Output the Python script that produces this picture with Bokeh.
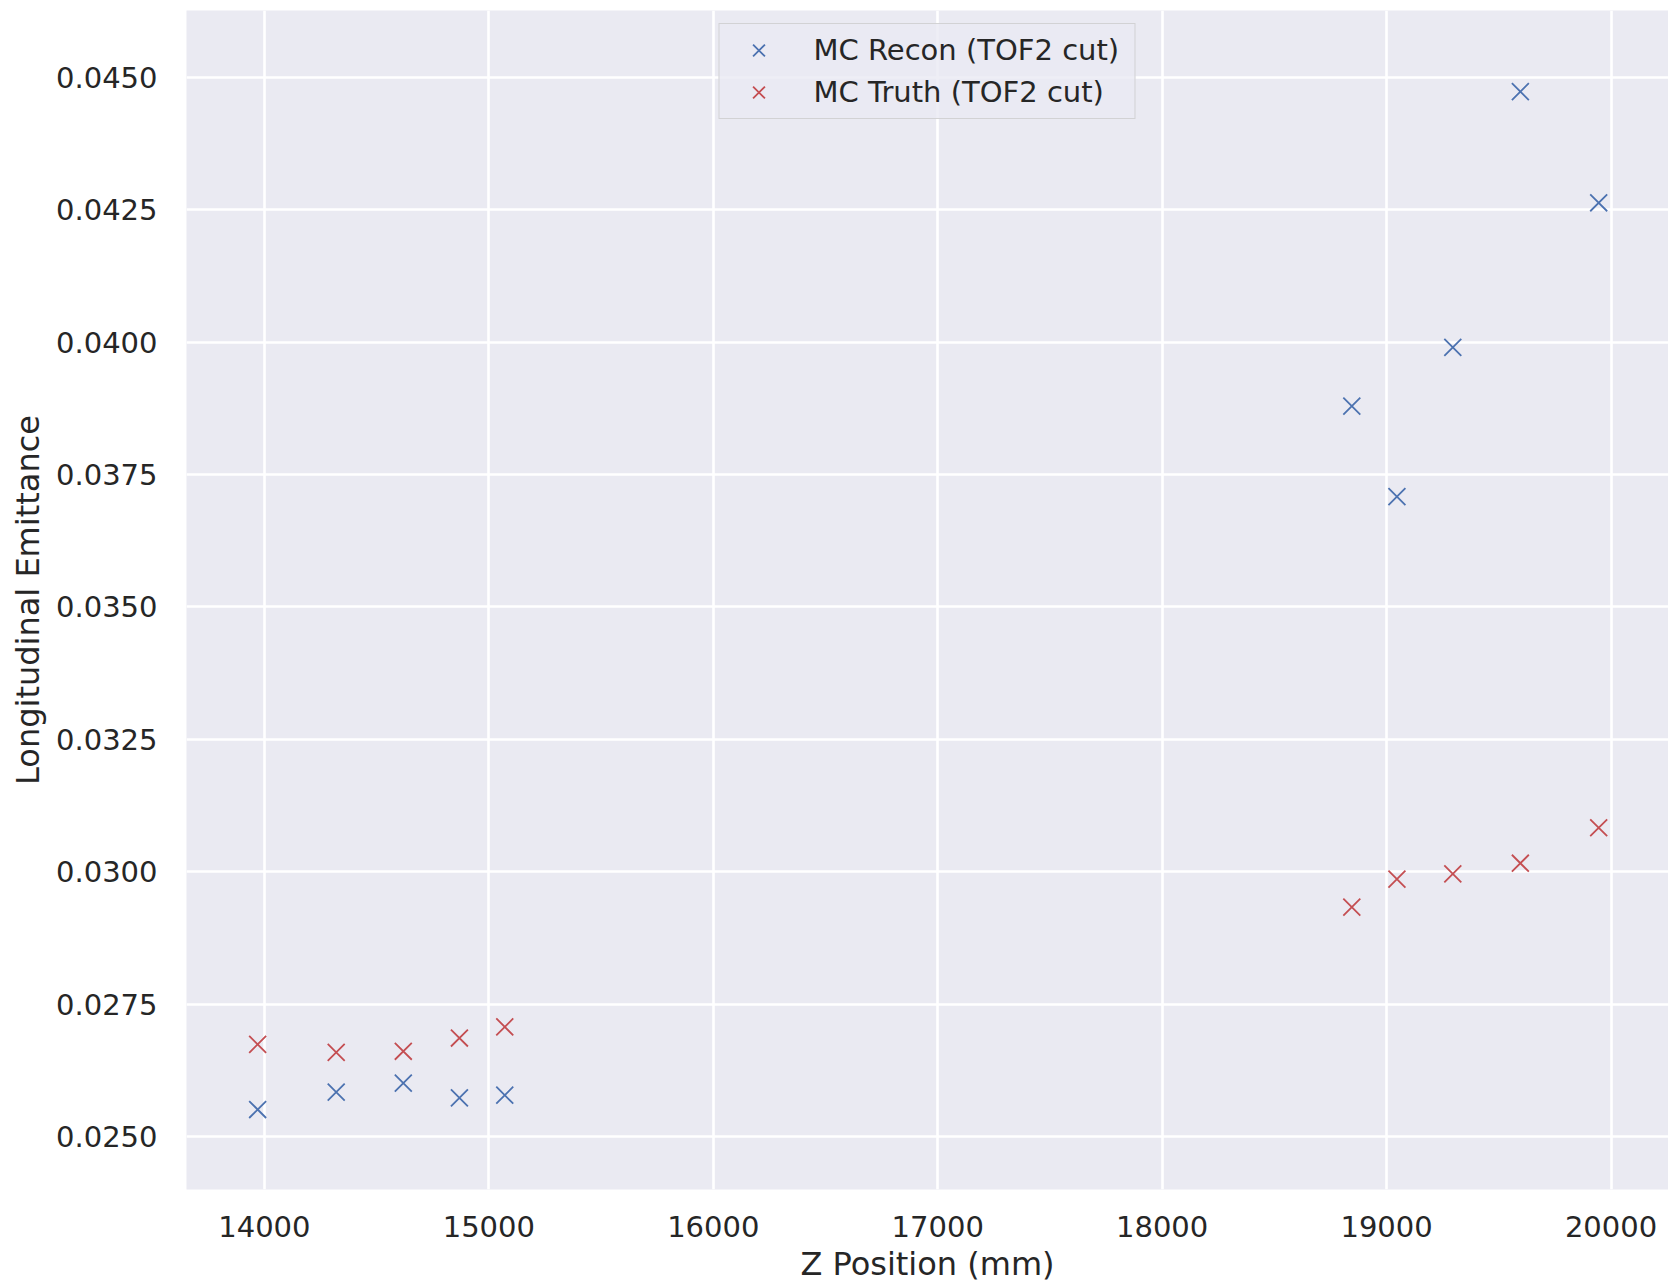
from bokeh.plotting import figure
from bokeh.models import FixedTicker, PrintfTickFormatter, Legend, LegendItem, Range1d
from bokeh.embed import file_html
from bokeh.resources import INLINE

# ---- data ----
z_position = [13970, 14320, 14619, 14869, 15071, 18845, 19046, 19295, 19596, 19945]
emit_recon = [0.02551, 0.02584, 0.02601, 0.02573, 0.02578, 0.03879, 0.03708, 0.03990, 0.04473, 0.04263]
emit_truth = [0.02674, 0.02659, 0.02661, 0.02686, 0.02707, 0.02933, 0.02986, 0.02996, 0.03016, 0.03083]
x_ticks = [14000, 15000, 16000, 17000, 18000, 19000, 20000]
y_ticks = [0.0250, 0.0275, 0.0300, 0.0325, 0.0350, 0.0375, 0.0400, 0.0425, 0.0450]
series_labels = ["MC Recon (TOF2 cut)", "MC Truth (TOF2 cut)"]

BLUE = "#4C72B0"
RED = "#C44E52"
TEXT = "#262626"
FONT = "DejaVu Sans"

p = figure(width=1668, height=1287,
           x_range=Range1d(13653, 20256), y_range=Range1d(0.0240, 0.04626),
           output_backend="svg", toolbar_location=None,
           min_border_left=186, min_border_right=0, min_border_top=10, min_border_bottom=98)

p.background_fill_color = "#EAEAF2"
p.border_fill_color = "white"
p.outline_line_color = None

p.xaxis.ticker = FixedTicker(ticks=x_ticks)
p.xaxis.formatter = PrintfTickFormatter(format="%d")
p.yaxis.ticker = FixedTicker(ticks=y_ticks)
p.yaxis.formatter = PrintfTickFormatter(format="%.4f")

for ax in (p.xaxis, p.yaxis):
    ax.axis_line_color = None
    ax.major_tick_line_color = None
    ax.minor_tick_line_color = None
    ax.major_tick_in = 0
    ax.major_tick_out = 0
    ax.minor_tick_in = 0
    ax.minor_tick_out = 0
    ax.major_label_text_font = FONT
    ax.major_label_text_font_size = "29px"
    ax.major_label_text_color = TEXT
    ax.axis_label_text_font = FONT
    ax.axis_label_text_font_size = "32px"
    ax.axis_label_text_font_style = "normal"
    ax.axis_label_text_color = TEXT

p.xaxis.axis_label = "Z Position (mm)"
p.yaxis.axis_label = "Longitudinal Emittance"
p.xaxis.major_label_standoff = 26
p.xaxis.axis_label_standoff = 5
p.yaxis.major_label_standoff = 29
p.yaxis.axis_label_standoff = 6

p.grid.grid_line_color = "white"
p.grid.grid_line_width = 2.6

r1 = p.scatter(z_position, emit_recon, marker="x", size=24, line_color=BLUE, line_width=1.8)
r2 = p.scatter(z_position, emit_truth, marker="x", size=24, line_color=RED, line_width=1.8)

legend = Legend(items=[LegendItem(label=series_labels[0], renderers=[r1]),
                       LegendItem(label=series_labels[1], renderers=[r2])],
                location="top_center", margin=13, padding=5, spacing=0,
                glyph_width=68, glyph_height=42, label_height=42, label_standoff=21,
                label_width=316,
                label_text_font=FONT, label_text_font_size="29px", label_text_color=TEXT,
                background_fill_color="#EAEAF2", background_fill_alpha=0.8,
                border_line_color="#cccccc", border_line_alpha=0.8, border_line_width=1.6)
p.add_layout(legend)

open("out.html", "w").write(file_html(p, INLINE))
